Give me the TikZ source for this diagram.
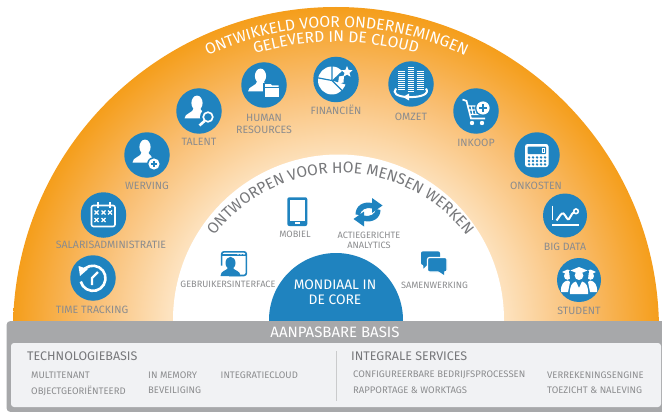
\documentclass[tikz,border=0pt]{standalone}
\usepackage{fontspec}
\setmainfont{Fira Sans}
\usetikzlibrary{decorations.text,calc,arrows.meta}
\definecolor{iconblue}{HTML}{1F83BF}
\definecolor{orangeedge}{HTML}{F59E1B}
\definecolor{orangemid}{HTML}{F9BE72}
\definecolor{orangepale}{HTML}{FDE3C0}
\definecolor{basegray}{HTML}{A7A8AA}
\definecolor{panelgray}{HTML}{F1F2F4}
\definecolor{textgray}{HTML}{8B8C8E}
\definecolor{headgray}{HTML}{77787B}
\pgfdeclareradialshading{sunburst}{\pgfpointorigin}{
  color(0bp)=(white);
  color(10bp)=(orangepale);
  color(13bp)=(orangepale);
  color(19bp)=(orangemid);
  color(25bp)=(orangeedge);
  color(50bp)=(orangeedge)}
\tikzset{
  disc/.style={circle,fill=iconblue,minimum size=45.5pt,inner sep=0pt},
  lbl/.style={text=textgray,font=\fontsize{10.6}{12}\selectfont,inner sep=0pt,align=center},
  lblwhite/.style={text=textgray,font=\fontsize{9.2}{10.2}\selectfont,inner sep=0pt,align=center},
  lblsmall/.style={text=textgray,font=\fontsize{9.5}{11}\selectfont,inner sep=0pt,anchor=west},
  headlbl/.style={text=headgray,font=\fontsize{12.5}{14}\selectfont,inner sep=0pt,anchor=west},
  whitelbl/.style={text=white,inner sep=0pt,align=center},
  wl/.style={white,line width=1.6pt},
}
\newcommand{\personglyph}[2]{%
  \begin{scope}[shift={(#1,#2)}]
    \fill[white] (0,0) ellipse (5.6 and 7.4);
    \fill[white] (-3.2,5) -- (3.2,5) .. controls (3.2,8) and (8,8) .. (8.5,15.5) -- (-12.5,15.5) .. controls (-12.5,10) and (-3.5,10) .. (-3.2,5) -- cycle;
  \end{scope}}
\newcommand{\xmark}[2]{\draw[white,line width=1.1pt] (#1-2,#2-2) -- (#1+2,#2+2) (#1-2,#2+2) -- (#1+2,#2-2);}
\newcommand{\coinstack}[3]{\foreach \yy in {#2,...,#3} {\draw[white,line width=1pt] (#1-3.4,\yy*2) -- (#1+3.4,\yy*2);}}
\begin{document}
\begin{tikzpicture}[x=1pt,y=-1pt]
\useasboundingbox (0,0) rectangle (662,412);
\fill[white] (0,0) rectangle (662,412);
% orange half disc
\begin{scope}
  \clip (0,0) rectangle (662,325);
  \shade[shading=sunburst] (336,330) circle (323);
\end{scope}
\fill[white] (338.5,320) circle (165.5);
\fill[iconblue] (336,320) circle (67);
% curved titles
\path[decorate,decoration={text along path,text align=center,
  text={|\color{white}\fontsize{15.7}{16}\selectfont|ONTWIKKELD VOOR ONDERNEMINGEN}}]
  ($(336.5,330)+(-122:303)$) arc (-122:-58:303);
\path[decorate,decoration={text along path,text align=center,
  text={|\color{white}\fontsize{15.6}{16}\selectfont|GELEVERD IN DE CLOUD}}]
  ($(336,330)+(-112:288)$) arc (-112:-68:288);
\path[decorate,decoration={text along path,text align=center,
  text={|\color{headgray}\fontsize{15.5}{16}\selectfont|ONTWORPEN VOOR HOE MENSEN WERKEN}}]
  ($(340.5,331)+(-165:158)$) arc (-165:-15:158);
% base
\fill[basegray,rounded corners=4pt] (6.5,321) rectangle (680,412);
\fill[panelgray,rounded corners=3pt] (11,343) rectangle (661,407);
\draw[basegray!60,line width=0.8pt] (336,351) -- (336,401);
% discs
\node[disc] (tracking) at (93,278) {};
\node[disc] (salaris) at (103.5,215) {};
\node[disc] (werving) at (147,155) {};
\node[disc] (talent) at (199,111) {};
\node[disc] (human) at (264,85) {};
\node[disc] (financien) at (336,79.5) {};
\node[disc] (omzet) at (411,84) {};
\node[disc] (inkoop) at (476,111) {};
\node[disc] (onkosten) at (537,155) {};
\node[disc,minimum size=44pt] (bigdata) at (565,215.5) {};
\node[disc,minimum size=44pt] (student) at (579,280) {};
% glyph: time tracking
\begin{scope}[shift={(93,278)}]
  \draw[white,line width=2.6pt] (-11,-6) arc (-150:165:12.6);
  \fill[white] (-14.5,-12) -- (-5,-9) -- (-13,-2) -- cycle;
  \draw[white,line width=2.4pt] (5,-6) -- (-1,0) -- (-1,7);
\end{scope}
% glyph: calendar
\begin{scope}[shift={(103.5,215)}]
  \draw[wl,rounded corners=2pt] (-12,-9.5) rectangle (11.5,11.5);
  \draw[white,line width=2pt] (-6,-13) -- (-6,-7) (6,-13) -- (6,-7);
  \xmark{-7}{-2.5}\xmark{0}{-2.5}\xmark{6.5}{-2.5}\xmark{-7}{5}\xmark{0}{5}
\end{scope}
% glyph: werving
\begin{scope}[shift={(147,155)}]
  \personglyph{-2}{-8}
  \fill[iconblue] (7,9) circle (7);
  \fill[white] (7,9) circle (5.6);
  \draw[iconblue,line width=1.5pt] (3.8,9) -- (10.2,9) (7,5.8) -- (7,12.2);
\end{scope}
% glyph: talent
\begin{scope}[shift={(199,111)}]
  \personglyph{-2}{-8}
  \fill[iconblue] (9,6) circle (8);
  \draw[white,line width=1.7pt] (9,6) circle (4.8);
  \draw[white,line width=2.6pt] (5.5,10) -- (0.5,14.5);
\end{scope}
% glyph: human resources
\begin{scope}[shift={(264,85)}]
  \personglyph{-3.5}{-9}
  \fill[iconblue] (-1,-2) rectangle (17,13.5);
  \fill[white] (1,0.5) -- (1,-0.8) -- (7,-0.8) -- (8,0.5) -- (14.5,0.5) -- (14.5,2) -- (1,2) -- cycle;
  \fill[white] (1,3.4) rectangle (14.5,12.5);
\end{scope}
% glyph: financien
\begin{scope}[shift={(336,79.5)}]
  \fill[white] (-4,1) circle (14);
  \fill[iconblue] (-4,1) -- (-4+16,-14) -- (-4+17,6) -- cycle;
  \draw[iconblue,line width=1.2pt] (-4,-14) -- (-4,1) -- (-20,-2) (-4,1) -- (7,12);
  \fill[white] (3,-3) -- (8,-4) -- (7.5,3) -- (2,4) -- cycle;
  \fill[white] (11,-13.5) -- (12.6,-9.6) -- (16.5,-9.2) -- (13.5,-6.6) -- (14.5,-2.8) -- (11,-4.9) -- (7.5,-2.8) -- (8.5,-6.6) -- (5.5,-9.2) -- (9.4,-9.6) -- cycle;
\end{scope}
% glyph: omzet
\begin{scope}[shift={(411,84)}]
  \coinstack{-9.3}{-6}{3}
  \coinstack{0}{-8}{4}
  \coinstack{9.3}{-6}{3}
  \draw[white,line width=2pt] (-4,13) .. controls (-14,12.5) and (-19,9) .. (-15,4.5);
  \draw[white,line width=2pt] (15,4.5) .. controls (19,10) and (10,13.5) .. (-2,13);
  \fill[white] (-8,13) -- (-2,9.5) -- (-2,16.5) -- cycle;
\end{scope}
% glyph: inkoop
\begin{scope}[shift={(476,111)}]
  \draw[white,line width=1.7pt] (-13.5,-11.5) -- (-9.5,-10) -- (-5,7.5) -- (9,7.5);
  \draw[white,line width=1.1pt] (-8.5,-5) -- (5,-5) (-7.5,-1) -- (7,-1) (-6,3.5) -- (8,3.5)
     (-4.8,-5) -- (-3,3.5) (-1,-5) -- (0,3.5) (3,-5) -- (3.5,3.5);
  \fill[white] (-4,12) circle (2.2) (6,12) circle (2.2);
  \fill[iconblue] (7,-3) circle (8);
  \fill[white] (7,-3) circle (6.6);
  \draw[iconblue,line width=1.6pt] (3,-3) -- (11,-3) (7,-7) -- (7,1);
\end{scope}
% glyph: onkosten
\begin{scope}[shift={(537,155)}]
  \fill[white,rounded corners=2.5pt] (-12,-11) rectangle (11.5,12);
  \fill[iconblue,rounded corners=0.8pt] (-9.3,-8.3) rectangle (9,-0.8);
  \draw[white,line width=0.7pt] (5.5,-6.5) rectangle (7.2,-3);
  \foreach \cx in {-8,-4,0,4,8}{\foreach \cy in {2.4,6,9.4}{\fill[iconblue] (\cx,\cy) circle (1.35);}}
\end{scope}
% glyph: big data
\begin{scope}[shift={(565,215.5)}]
  \draw[white,line width=1.8pt] (-12.5,-10) -- (-12.5,4);
  \draw[white,line width=2pt] (-13,9) -- (13.5,9);
  \draw[white,line width=2pt] (-8.5,5) .. controls (-5,1) and (-4,-3) .. (-1.5,-2) .. controls (1,0) and (2,5) .. (4,3.5) .. controls (6,2) and (6,-2) .. (8.8,-3);
  \draw[white,line width=1.6pt] (11,-4.2) circle (2.3);
\end{scope}
% glyph: student
\begin{scope}[shift={(579,280)}]
  \fill[white] (-11.5,-10.5) -- (-5,-8) -- (-11.5,-5.5) -- (-17,-8) -- cycle;
  \fill[white] (11.5,-10.5) -- (17,-8) -- (11.5,-5.5) -- (5,-8) -- cycle;
  \fill[white] (-11.5,-4) ellipse (3.5 and 3.8) (11.5,-4) ellipse (3.5 and 3.8);
  \fill[white] (-18,12) .. controls (-18.5,4) and (-15,1) .. (-11,0.5) -- (-9,2) -- (-11,12) -- cycle;
  \fill[white] (18,12) .. controls (18.5,4) and (15,1) .. (11,0.5) -- (9,2) -- (11,12) -- cycle;
  \fill[iconblue] (0,-14) -- (10,-9) -- (7,14) -- (-7,14) -- (-10,-9) -- cycle;
  \fill[white] (0,-13) -- (8.5,-9.5) -- (0,-6) -- (-8.5,-9.5) -- cycle;
  \fill[white] (0,-4.5) ellipse (4.4 and 4.5);
  \fill[white] (-9,14) .. controls (-9.5,6) and (-7,2.5) .. (-3,1.5) -- (0,8) -- (3,1.5) .. controls (7,2.5) and (9.5,6) .. (9,14) -- cycle;
\end{scope}
% glyph: mobiel
\fill[iconblue,rounded corners=2pt] (287.3,197.3) rectangle (307.3,226);
\fill[white] (290,200) rectangle (304.6,220.5);
\fill[white] (294.5,222) rectangle (300,224);
% glyph: analytics
\begin{scope}[shift={(368,212)}]
  \fill[iconblue] (-12.5,2.5) .. controls (-12.5,-6) and (-5,-11) .. (4,-9) -- (4,-14) -- (14.5,-6.5) -- (4,1) -- (4,-3.5) .. controls (-3,-5) and (-7,-2) .. (-8,3) -- cycle;
  \fill[iconblue] (12.5,-2) .. controls (12.5,6) and (5,11) .. (-4,9) -- (-4,14.5) -- (-14.5,7) -- (-4,-0.5) -- (-4,3.5) .. controls (3,5) and (7,2) .. (8,-3) -- cycle;
\end{scope}
% glyph: gebruikersinterface
\begin{scope}[shift={(234,263.5)}]
  \draw[iconblue,line width=1.6pt,rounded corners=2.5pt] (-5,12) -- (12.4,12) -- (12.4,-11.7) -- (-12.4,-11.7) -- (-12.4,2);
  \draw[iconblue,line width=2.2pt] (-12.4,-8.5) -- (12.4,-8.5);
  \fill[iconblue] (-13.5,12.5) .. controls (-13.5,7) and (-7,7) .. (-6,4.5) -- (-1,4.5) .. controls (0,7) and (6.5,7) .. (6.5,12.5) -- cycle;
  \fill[iconblue] (-3.5,-0.5) ellipse (5 and 6.2);
  \fill[white] (4,-9.5) circle (0.9) (7,-9.5) circle (0.9) (10,-9.5) circle (0.9);
\end{scope}
% glyph: samenwerking
\fill[iconblue,rounded corners=2pt] (421,251.3) rectangle (440,265);
\fill[iconblue] (423,263) -- (423.5,268.5) -- (429,263) -- cycle;
\fill[iconblue,draw=white,line width=1.2pt,rounded corners=2pt] (427.5,257.5) rectangle (447,272);
\fill[iconblue] (438,271) -- (444,275) -- (444,271) -- cycle;
% labels on the orange ring
\node[lbl] (lbtracking) at (92,309.5) {TIME TRACKING};
\node[lbl] (lbsalaris) at (111,244.5) {SALARISADMINISTRATIE};
\node[lbl] (lbwerving) at (147,186) {WERVING};
\node[lbl] (lbtalent) at (199,141.5) {TALENT};
\node[lbl] (lbhuman) at (264,123.5) {HUMAN\\RESOURCES};
\node[lbl] (lbfinancien) at (336,110) {FINANCIËN};
\node[lbl] (lbomzet) at (411,117) {OMZET};
\node[lbl] (lbinkoop) at (476,142.5) {INKOOP};
\node[lbl] (lbonkosten) at (536,186) {ONKOSTEN};
\node[lbl] (lbbigdata) at (565,246.5) {BIG DATA};
\node[lbl] (lbstudent) at (579,310.5) {STUDENT};
% labels on the white ring
\node[lblwhite] (lbmobiel) at (295,234.5) {MOBIEL};
\node[lblwhite] (lbanalytics) at (369,240) {ACTIEGERICHTE\\ANALYTICS};
\node[lblwhite] (lbsamen) at (434.5,285) {SAMENWERKING};
\node[lblwhite] (lbgebruik) at (228,284) {GEBRUIKERSINTERFACE};
\node[whitelbl,font=\fontsize{13.8}{14.5}\selectfont] (core) at (335,292) {MONDIAAL IN\\DE CORE};
\node[whitelbl,font=\fontsize{15}{16}\selectfont] (basis) at (335,332) {AANPASBARE BASIS};
% panel text
\node[headlbl] (techno) at (27,356) {TECHNOLOGIEBASIS};
\node[headlbl] (integrale) at (351,356) {INTEGRALE SERVICES};
\node[lblsmall] (multi) at (31,375) {MULTITENANT};
\node[lblsmall] (object) at (31,391) {OBJECTGEORIËNTEERD};
\node[lblsmall] (memory) at (148,375) {IN MEMORY};
\node[lblsmall] (beveil) at (148,390) {BEVEILIGING};
\node[lblsmall] (cloud) at (220.5,375) {INTEGRATIECLOUD};
\node[lblsmall] (config) at (353,375) {CONFIGUREERBARE BEDRIJFSPROCESSEN};
\node[lblsmall] (rapport) at (353,390) {RAPPORTAGE \& WORKTAGS};
\node[lblsmall] (verrek) at (547,375) {VERREKENINGSENGINE};
\node[lblsmall] (toezicht) at (547,390) {TOEZICHT \& NALEVING};
\end{tikzpicture}
\end{document}
